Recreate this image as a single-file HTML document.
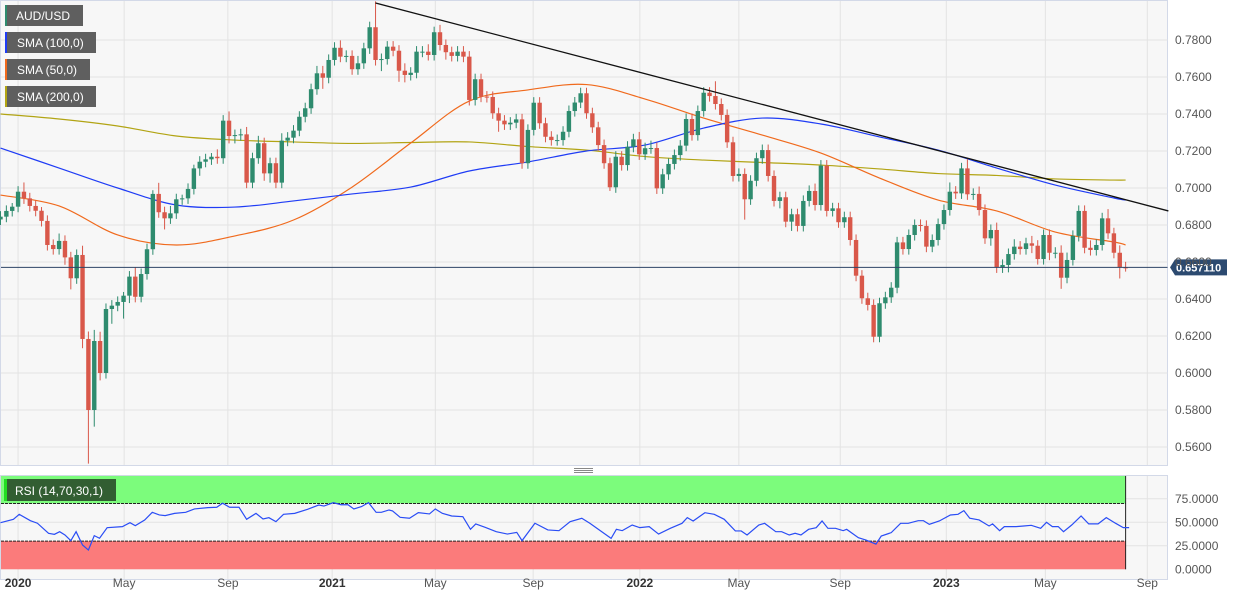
<!DOCTYPE html>
<html><head><meta charset="utf-8"><style>
html,body{margin:0;padding:0;background:#fff;}
svg{display:block;font-family:"Liberation Sans",Arial,sans-serif;}
</style></head><body>
<svg id="chart" width="1244" height="596" viewBox="0 0 1244 596" xmlns="http://www.w3.org/2000/svg">
  <rect x="0" y="0" width="1244" height="596" fill="#ffffff"/>
  <rect x="0.5" y="0.5" width="1167" height="465" fill="#f7f7f7" stroke="#d3d9e8"/>
  <rect x="0.5" y="475.5" width="1167" height="104" fill="#f7f7f7" stroke="#d3d9e8"/>
  <g id="grid"></g>
  <g id="rsiLayer"></g>
  <g id="smaLayer"></g>
  <g id="candles"></g>
  <g id="overlay"></g>
  <g id="axes"></g>
  <g>
    <line x1="574" y1="468.5" x2="593" y2="468.5" stroke="#888"/>
    <line x1="574" y1="470.5" x2="593" y2="470.5" stroke="#888"/>
    <line x1="574" y1="472.5" x2="593" y2="472.5" stroke="#888"/>
  </g>
  <g font-size="12" fill="#fff">
    <g><rect x="5" y="5" width="78" height="21" fill="#5f5f5f"/><rect x="5" y="5" width="2" height="21" fill="#2e8b6e"/><text x="16" y="20" fill="#fff">AUD/USD</text></g>
    <g><rect x="5" y="32" width="91" height="21" fill="#5f5f5f"/><rect x="5" y="32" width="2" height="21" fill="#1f3cf5"/><text x="17" y="47" fill="#fff">SMA (100,0)</text></g>
    <g><rect x="5" y="59" width="85" height="21" fill="#5f5f5f"/><rect x="5" y="59" width="2" height="21" fill="#f06a1d"/><text x="17" y="74" fill="#fff">SMA (50,0)</text></g>
    <g><rect x="5" y="86" width="91" height="21" fill="#5f5f5f"/><rect x="5" y="86" width="2" height="21" fill="#b2a414"/><text x="17" y="101" fill="#fff">SMA (200,0)</text></g>
  </g>
  <g>
    <rect x="4" y="479" width="112" height="22" fill="#325e32"/><rect x="4" y="479" width="3" height="22" fill="#22dd22"/>
    <text x="15" y="495" font-size="12" fill="#fff">RSI (14,70,30,1)</text>
  </g>
</svg>
<script>
// ---- data ----
const closes = [0.6845,0.6876,0.6899,0.6980,0.6944,0.6903,0.6877,0.6822,0.6692,0.6670,0.6714,0.6625,0.6512,0.6638,0.6184,0.5800,0.6173,0.6000,0.6346,0.6364,0.6384,0.6418,0.6521,0.6412,0.6535,0.6669,0.6968,0.6869,0.6836,0.6863,0.6939,0.6944,0.6995,0.7106,0.7142,0.7155,0.7169,0.7161,0.7364,0.7281,0.7286,0.7290,0.7029,0.7161,0.7242,0.7079,0.7134,0.7029,0.7256,0.7272,0.7310,0.7385,0.7431,0.7534,0.7620,0.7596,0.7692,0.7758,0.7710,0.7714,0.7642,0.7674,0.7755,0.7869,0.7692,0.7697,0.7764,0.7742,0.7634,0.7611,0.7623,0.7737,0.7737,0.7719,0.7842,0.7773,0.7734,0.7714,0.7737,0.7710,0.7476,0.7588,0.7494,0.7492,0.7404,0.7364,0.7344,0.7353,0.7371,0.7134,0.7314,0.7461,0.7350,0.7277,0.7259,0.7259,0.7304,0.7416,0.7462,0.7512,0.7404,0.7328,0.7232,0.7134,0.7004,0.7169,0.7124,0.7223,0.7263,0.7182,0.7215,0.7216,0.6998,0.7074,0.7130,0.7178,0.7229,0.7373,0.7286,0.7416,0.7515,0.7497,0.7454,0.7395,0.7247,0.7065,0.7076,0.6939,0.7039,0.7161,0.7205,0.7065,0.6930,0.6950,0.6818,0.6858,0.6795,0.6930,0.6984,0.6908,0.7121,0.6876,0.6890,0.6815,0.6842,0.6719,0.6526,0.6404,0.6368,0.6196,0.6377,0.6409,0.6461,0.6706,0.6670,0.6746,0.6800,0.6795,0.6683,0.6719,0.6805,0.6881,0.6980,0.6971,0.7106,0.6966,0.6968,0.6881,0.6728,0.6773,0.6571,0.6584,0.6643,0.6683,0.6670,0.6701,0.6688,0.6616,0.6746,0.6650,0.6650,0.6515,0.6611,0.6741,0.6876,0.6677,0.6665,0.6692,0.6836,0.6755,0.6650,0.6571,0.6568];
const firstOpen = 0.6830;
// wick extensions beyond the body (in units of 0.001)
const wickUp = [3,3,2,3,5,3,3,2,3,3,4,3,3,3,5,4,6,5,3,3,3,2,3,5,3,3,2,6,3,4,3,2,3,2,3,3,2,4,3,5,3,3,4,3,4,3,3,3,4,3,3,3,3,3,4,4,3,3,4,3,3,4,3,3,14,3,3,3,3,4,3,3,3,4,3,4,3,3,3,3,3,3,3,3,3,3,3,3,3,3,3,3,3,3,3,3,3,3,3,3,3,3,3,3,3,3,3,3,3,4,3,4,3,3,3,3,3,3,3,3,3,3,8,3,3,3,3,3,3,3,3,3,3,3,3,3,3,3,3,4,3,3,3,3,3,3,3,3,3,3,3,3,3,3,3,3,3,3,3,3,3,3,5,3,3,5,3,4,3,3,4,3,3,4,3,3,4,3,3,3,3,4,4,3,3,3,4,3,3,5,3,4,3];
const wickDn = [3,3,3,3,3,3,3,3,3,3,3,4,6,3,5,29,9,4,3,8,3,9,4,3,3,3,3,3,6,3,3,3,3,3,4,3,3,3,3,4,4,3,3,3,3,4,5,3,3,3,3,3,3,3,3,6,3,3,3,3,3,3,3,3,3,6,3,3,6,4,3,3,3,3,3,3,4,3,3,3,3,3,3,3,3,6,3,3,3,3,3,3,3,3,3,3,3,3,3,3,3,3,3,3,2,3,3,3,3,3,3,3,3,3,3,3,3,3,3,3,3,3,3,3,3,3,3,11,3,3,3,3,3,4,3,5,3,3,3,3,3,3,3,3,3,3,3,3,3,3,3,3,3,3,3,3,3,3,3,3,3,3,3,3,3,3,3,3,3,4,3,3,4,3,3,3,4,3,3,4,3,6,3,3,3,3,3,3,3,3,3,6,2];
// moving averages sampled every 10 weeks (last point = latest week)
const smaIdx = [0,10,20,30,40,50,60,70,80,90,100,110,120,130,140,150,160,170,180,190,192];
const sma50  = [0.6962,0.6903,0.6746,0.6692,0.6741,0.6827,0.7005,0.7243,0.7470,0.7530,0.7559,0.7481,0.7378,0.7286,0.7189,0.7054,0.6935,0.6876,0.6762,0.6708,0.6692];
const sma100 = [0.7216,0.7108,0.7000,0.6908,0.6897,0.6930,0.6968,0.7005,0.7092,0.7141,0.7200,0.7232,0.7324,0.7378,0.7346,0.7276,0.7205,0.7108,0.7016,0.6946,0.6935];
const sma200 = [0.7400,0.7373,0.7335,0.7281,0.7259,0.7249,0.7241,0.7246,0.7249,0.7224,0.7205,0.7170,0.7151,0.7138,0.7124,0.7103,0.7078,0.7068,0.7049,0.7043,0.7043];
const trendIdx = [64,199.3];
const trendPrice = [0.8000,0.6876];
const lastPrice = 0.657110;
const rsiIdx = [0,2.2,3.2,5.1,6.3,8.2,9.2,10.1,11,12,12.9,14,15,16,16.9,18.2,20.8,22.1,23,24.6,25.9,27.1,28.1,29.7,31.6,33.1,35.4,36.9,37.9,39.1,40.7,42,43.6,44.8,45.8,47,48.3,50.2,52.4,54.3,55.2,56.8,58.1,59.3,60.3,61.6,62.8,64.1,65,66.3,66.9,68.2,69.8,71.3,73.2,74.2,75.4,77,78.9,80.2,81.1,82.7,84.6,86.5,88.1,89,91.2,93.4,95.3,97.2,99.2,100.6,104.2,105.1,106.1,107.8,109.1,110.7,112.3,114.3,116.3,117.2,118.2,120.2,121.8,123.5,125.4,126.4,127.4,129.4,130.4,132.3,133.3,134.6,135.6,136.6,137.9,139.2,140.2,141.2,142.5,143.8,144.4,146.4,147.7,149.4,150.3,152,153.6,154.9,156.6,157.5,158.5,160.2,162.1,163.4,164.4,165.4,167,168.7,169.3,170.5,171.3,173.3,174.6,175.9,177.5,178.5,179.5,180.5,181.4,182.8,184.4,185.7,187.3,188.7,190.3,191.6,192.6];
const rsiVal = [49.6,53.2,58.5,51.7,49,38.3,37.2,40,36.5,30.5,40,25.9,20.5,35.8,33,44.3,45.4,49.6,46.4,52.4,60.6,57.8,57.1,59.5,60.6,64.2,65.6,66,70.3,66,66,53.2,59.5,53.5,54.9,50.7,58.5,59.5,63.8,68.4,67.3,70.9,68.7,68.7,64.2,66.7,70.9,60.6,60.6,63.1,62.1,55.3,54.3,60.3,58.9,64.2,59.5,56.7,56,42.6,48.3,44.7,40,37.5,39.3,30.5,49,41.9,41.1,50.7,54.3,48.9,32.9,42.5,41.1,47.1,44.3,45.4,37.5,43.6,48.9,55,51.4,60.2,58.5,53.2,40.8,40.8,36.5,47.1,48.9,40,40,36.5,38.3,36.5,42.5,44.3,51.4,43.6,43.6,41.1,42.5,33.6,31.1,26.8,35.4,39,48.9,48.9,51.7,51.7,47.8,51.4,57.8,58.5,62.4,54.3,52.5,46.1,48.3,41.1,45.4,45.4,46.1,46.8,43.6,50,45.4,45.4,40,47.1,56.7,48.3,48.3,55,48.9,44.3,44.3];
const priceTicks = [0.56,0.58,0.60,0.62,0.64,0.66,0.68,0.70,0.72,0.74,0.76,0.78];
const rsiTicks = [0,25,50,75];
const timeTickIdx = [3.0,21.1,38.8,56.6,74.2,90.9,109.1,126.0,143.3,161.4,178.3,195.7];
const timeTickLabels = ["2020","May","Sep","2021","May","Sep","2022","May","Sep","2023","May","Sep"];
const timeTickBold = [true,false,false,true,false,false,true,false,false,true,false,false];

// ---- scales ----
const NS="http://www.w3.org/2000/svg";
const X=i=>5.86*i+0.5;
const Y=p=>40+(0.78-p)*1850;
const RY=r=>569.3-r*0.94;
const PLOT_R=1167.5;
function mk(tag,attrs,parent){const e=document.createElementNS(NS,tag);for(const k in attrs)e.setAttribute(k,attrs[k]);parent.appendChild(e);return e;}
function smoothPath(pts){
  let d='M'+pts[0][0]+','+pts[0][1];
  for(let k=0;k<pts.length-1;k++){
    const p0=pts[Math.max(0,k-1)],p1=pts[k],p2=pts[k+1],p3=pts[Math.min(pts.length-1,k+2)];
    const c1x=p1[0]+(p2[0]-p0[0])/6,c1y=p1[1]+(p2[1]-p0[1])/6;
    const c2x=p2[0]-(p3[0]-p1[0])/6,c2y=p2[1]-(p3[1]-p1[1])/6;
    d+=` C${c1x},${c1y} ${c2x},${c2y} ${p2[0]},${p2[1]}`;
  }
  return d;
}
const grid=document.getElementById('grid'),cg=document.getElementById('candles'),sg=document.getElementById('smaLayer'),rg=document.getElementById('rsiLayer'),ov=document.getElementById('overlay'),ax=document.getElementById('axes');

// grid + axes
priceTicks.forEach(p=>{
  const y=Y(p);
  const gl=mk('line',{x1:1,x2:PLOT_R,y1:y,y2:y,stroke:'#e3e3e3'},grid);
  
  
  const t=mk('text',{x:1175,y:y+4,'font-size':12,fill:'#555'},ax);
  t.textContent=p.toFixed(4);
  
  
});
rsiTicks.forEach(r=>{
  const y=RY(r);
  if(r>0){const gl=mk('line',{x1:1,x2:PLOT_R,y1:y,y2:y,stroke:'#e3e3e3'},grid);
  
  }
  const t=mk('text',{x:1175,y:y+4,'font-size':12,fill:'#555'},ax);
  t.textContent=r.toFixed(4);
  
  
});
timeTickIdx.forEach((ti,k)=>{
  const x=X(ti);
  const g1=mk('line',{x1:x,x2:x,y1:1,y2:465,stroke:'#e3e3e3'},grid);
  
  
  const g2=mk('line',{x1:x,x2:x,y1:476,y2:579,stroke:'#e3e3e3'},grid);
  
  
  const t=mk('text',{x:x,y:587,'font-size':12,'text-anchor':'middle',fill:timeTickBold[k]?'#333':'#555','font-weight':timeTickBold[k]?'bold':'normal'},ax);
  t.textContent=timeTickLabels[k];
  
  
});

// RSI zones
const lastX=X(closes.length-1);
const zUp=mk('rect',{x:1,y:RY(99.3),width:lastX-1,height:RY(70)-RY(99.3),fill:'#7cfc7c'},rg);


const zDn=mk('rect',{x:1,y:RY(30),width:lastX-1,height:RY(0)-RY(30),fill:'#fb7b7b'},rg);


[70,30].forEach(l=>{const ln=mk('line',{x1:1,x2:lastX,y1:RY(l),y2:RY(l),stroke:'#222','stroke-dasharray':'3,1'},rg);
  
  });
const edge=mk('line',{x1:lastX,x2:lastX,y1:RY(99.3),y2:RY(0),stroke:'#222'},rg);


const rsiLine=mk('polyline',{points:rsiIdx.map((i,k)=>X(i)+','+RY(rsiVal[k])).join(' '),fill:'none',stroke:'#2a4df5','stroke-width':1.2},rg);



// SMAs
[[sma200,'#b2a414','sma-200-line'],[sma50,'#f06a1d','sma-50-line'],[sma100,'#1f3cf5','sma-100-line']].forEach(([arr,c,n])=>{
  const pts=smaIdx.map((i,k)=>[X(i),Y(arr[k])]);
  const pl=mk('path',{d:smoothPath(pts),fill:'none',stroke:c,'stroke-width':1.2},sg);
  
  
});

// candles
closes.forEach((c,i)=>{
  const o=i===0?firstOpen:closes[i-1];
  const up=c>=o;
  const col=up?'#2e8b6e':'#d9584a';
  const x=X(i);
  const hi=Math.max(o,c)+wickUp[i]/1000, lo=Math.min(o,c)-wickDn[i]/1000;
  const g=mk('g',{},cg);
  
  
  mk('line',{x1:x,x2:x,y1:Y(hi),y2:Y(lo),stroke:col,'stroke-width':1},g);
  const yt=Y(Math.max(o,c)),yb=Y(Math.min(o,c));
  mk('rect',{x:x-2.2,y:yt,width:4.4,height:Math.max(1,yb-yt),fill:col},g);
});

// trendline & last price
const tl=mk('line',{x1:X(trendIdx[0]),y1:Y(trendPrice[0]),x2:X(trendIdx[1]),y2:Y(trendPrice[1]),stroke:'#111','stroke-width':1.3},ov);


const ly=Y(lastPrice);
const pl=mk('line',{x1:1,x2:PLOT_R,y1:ly,y2:ly,stroke:'#2c4466','stroke-width':1},ov);


const tag=mk('path',{d:`M1170,${ly} L1175,${ly-8} L1227,${ly-8} L1227,${ly+8} L1175,${ly+8} Z`,fill:'#2c4a70'},ov);


const tt=mk('text',{x:1176,y:ly+4,'font-size':11,'font-weight':'bold',fill:'#fff'},ov);
tt.textContent=lastPrice.toFixed(6);


</script>
</body></html>
